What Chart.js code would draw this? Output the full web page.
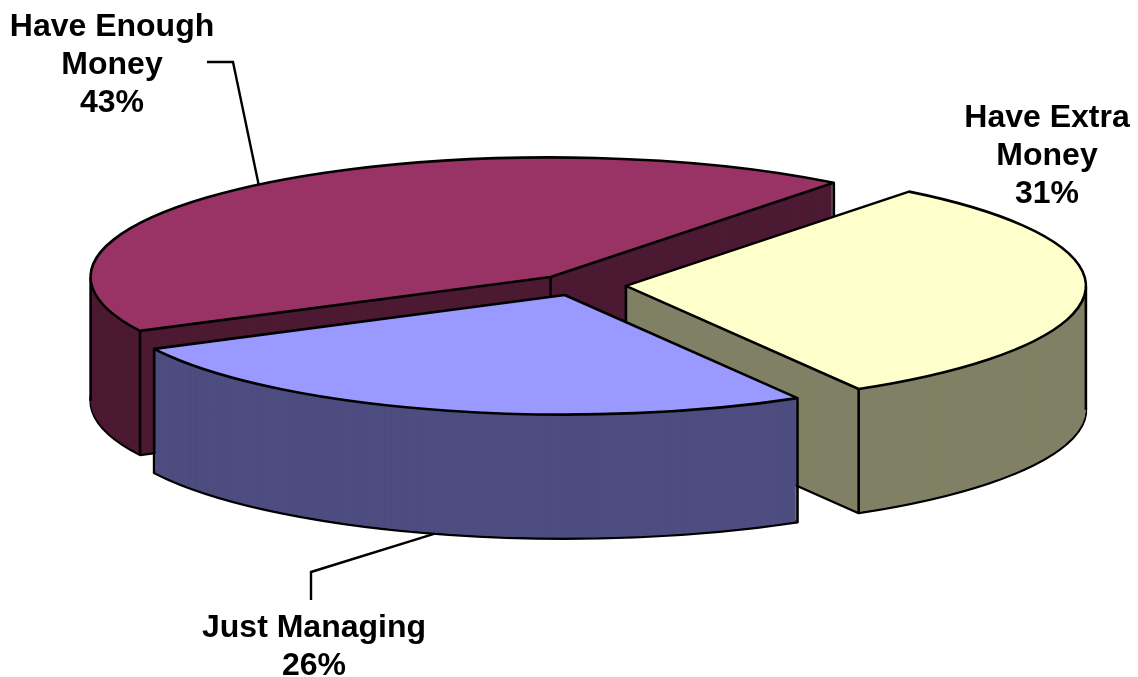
<!DOCTYPE html>
<html>
<head>
<meta charset="utf-8">
<script src="https://cdn.jsdelivr.net/npm/chart.js@4/dist/chart.umd.min.js"></script>
<style>
  html, body { margin: 0; background: #fff; }
  #wrap { width: 1138px; height: 677px; }
</style>
</head>
<body>
<div id="wrap"><canvas id="pieChart" width="1138" height="677"></canvas></div>
<script>
// data
const categories = [['Have Extra', 'Money'], ['Just Managing'], ['Have Enough', 'Money']];
const shares = [31, 26, 43];

// styles
const topColors = ['#FFFFCC', '#9999FF', '#993366'];
const sideColors = ['#808066', '#4D4D80', '#4D1A33'];

// 3d look: where the pie sits, how flat it is and how far slices are pulled out
const pie = { cx: 576, cy: 285, tilt: 0.26, depth: 124, radius: 460, explode: [50, 40, 40] };
const labelSpots = [
  { x: 1047, y: 118, leader: null },
  { x: 314, y: 628, leader: [[311, 600], [311, 572]], onBottom: true },
  { x: 112, y: 27, leader: [[207, 62], [233, 62]], onBottom: false }
];

const midAngle = arc => (arc.startAngle + arc.endAngle) / 2;

// screen point of a point on a slice (angle/r in the flat pie), dz pixels down
const project = (arc, i, angle, r, dz) => {
  const m = midAngle(arc), e = pie.explode[i];
  const ux = Math.cos(m) * e + Math.cos(angle) * r;
  const uy = Math.sin(m) * e + Math.sin(angle) * r;
  return { x: pie.cx + ux, y: pie.cy + uy * pie.tilt + dz };
};

const place = (ctx, base, arc, i, dz) => {
  const m = midAngle(arc), e = pie.explode[i];
  ctx.setTransform(base);
  ctx.translate(pie.cx + Math.cos(m) * e, pie.cy + dz + Math.sin(m) * e * pie.tilt);
  ctx.scale(1, pie.tilt);
  ctx.translate(-arc.x, -arc.y);
};

const outline = (ctx, base, arc, i, dz) => {
  place(ctx, base, arc, i, dz);
  ctx.beginPath();
  ctx.moveTo(arc.x, arc.y);
  ctx.arc(arc.x, arc.y, arc.outerRadius, arc.startAngle, arc.endAngle);
  ctx.closePath();
  ctx.setTransform(base);
  ctx.stroke();
};

const inSlice = (arc, a) => {
  const TAU = Math.PI * 2;
  const d = ((a - arc.startAngle) % TAU + TAU) % TAU;
  return d <= arc.endAngle - arc.startAngle;
};

const pie3d = {
  id: 'pie3d',
  beforeDatasetsDraw(chart) {
    const ctx = chart.ctx;
    const arcs = chart.getDatasetMeta(0).data;
    const base = ctx.getTransform();
    const order = arcs.map((a, i) => i)
      .sort((a, b) => Math.sin(midAngle(arcs[a])) - Math.sin(midAngle(arcs[b])));

    ctx.save();
    ctx.strokeStyle = '#000';
    ctx.lineWidth = 2.6;
    ctx.lineJoin = 'round';
    order.forEach(i => {
      const arc = arcs[i];
      const opts = arc.options;
      const side = Object.assign({}, opts, { backgroundColor: sideColors[i], borderWidth: 0 });
      const top = Object.assign({}, opts, { borderWidth: 0 });

      // side walls
      arc.options = side;
      for (let dz = pie.depth; dz > 0; dz--) {
        place(ctx, base, arc, i, dz);
        arc.draw(ctx);
        if (dz === pie.depth) outline(ctx, base, arc, i, dz);
      }

      // vertical edges (the centre edge only when a cut face looks to the front)
      ctx.setTransform(base);
      const corners = [[arc.startAngle, arc.outerRadius], [arc.endAngle, arc.outerRadius]];
      if (Math.cos(arc.endAngle) > 0 || Math.cos(arc.startAngle) < 0) corners.push([0, 0]);
      [0, Math.PI].forEach(a => { if (inSlice(arc, a)) corners.push([a, arc.outerRadius]); });
      corners.forEach(([a, r]) => {
        const p = project(arc, i, a, r, 0);
        const q = project(arc, i, a, r, pie.depth);
        ctx.beginPath();
        ctx.moveTo(p.x, p.y);
        ctx.lineTo(q.x, q.y);
        ctx.stroke();
      });

      // top face
      arc.options = top;
      place(ctx, base, arc, i, 0);
      arc.draw(ctx);
      outline(ctx, base, arc, i, 0);
      arc.options = opts;
    });
    ctx.setTransform(base);
    ctx.restore();
    return false;
  },
  afterDraw(chart) {
    const ctx = chart.ctx;
    const arcs = chart.getDatasetMeta(0).data;
    ctx.save();
    ctx.fillStyle = '#000';
    ctx.strokeStyle = '#000';
    ctx.lineWidth = 2.4;
    ctx.font = 'bold 32px "Liberation Sans", Arial, sans-serif';
    ctx.textAlign = 'center';
    ctx.textBaseline = 'middle';
    labelSpots.forEach((spot, i) => {
      const lines = [].concat(categories[i], shares[i] + '%');
      lines.forEach((t, k) => ctx.fillText(t, spot.x, spot.y + k * 38));
      if (spot.leader) {
        const arc = arcs[i];
        const end = project(arc, i, midAngle(arc), arc.outerRadius, spot.onBottom ? pie.depth : 0);
        ctx.beginPath();
        ctx.moveTo(spot.leader[0][0], spot.leader[0][1]);
        spot.leader.slice(1).forEach(p => ctx.lineTo(p[0], p[1]));
        ctx.lineTo(end.x, end.y);
        ctx.stroke();
      }
    });
    ctx.restore();
  }
};

new Chart(document.getElementById('pieChart'), {
  type: 'pie',
  data: {
    labels: categories,
    datasets: [{
      data: shares,
      backgroundColor: topColors,
      borderWidth: 0
    }]
  },
  options: {
    responsive: false,
    animation: false,
    events: [],
    rotation: 38,
    radius: pie.radius,
    plugins: {
      legend: { display: false },
      tooltip: { enabled: false }
    }
  },
  plugins: [pie3d]
});
</script>
</body>
</html>
